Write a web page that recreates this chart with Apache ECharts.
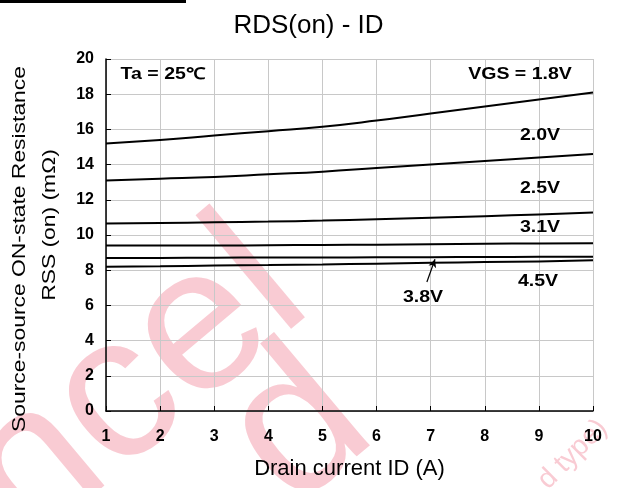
<!DOCTYPE html>
<html>
<head>
<meta charset="utf-8">
<script src="https://cdn.jsdelivr.net/npm/echarts@6/dist/echarts.min.js"></script>
<style>
  html, body { margin: 0; padding: 0; background: #fff; }
  #chartWrap { width: 617px; height: 488px; }
</style>
</head>
<body>
<div id="chartWrap"></div>
<script>
// 漏极电流 ID (A)
var currents = [1, 2, 3, 4, 5, 6, 7, 8, 9, 10];
// 各 VGS 下的导通电阻 (mΩ)
var vgs18 = [15.2, 15.4, 15.65, 15.9, 16.15, 16.5, 16.9, 17.3, 17.7, 18.1];
var vgs20 = [13.1, 13.2, 13.3, 13.45, 13.6, 13.8, 14.0, 14.2, 14.4, 14.6];
var vgs25 = [10.65, 10.68, 10.72, 10.76, 10.82, 10.9, 10.98, 11.07, 11.17, 11.28];
var vgs31 = [9.4, 9.4, 9.4, 9.42, 9.43, 9.45, 9.47, 9.5, 9.52, 9.53];
var vgs38 = [8.7, 8.7, 8.71, 8.72, 8.72, 8.73, 8.74, 8.75, 8.76, 8.77];
var vgs45 = [8.2, 8.22, 8.27, 8.3, 8.33, 8.37, 8.42, 8.46, 8.5, 8.56];
var seriesNames = ['1.8V', '2.0V', '2.5V', '3.1V', '3.8V', '4.5V'];

var FONT = 'Liberation Sans, Arial, sans-serif';
var PINK = '#f9cbd3';

function pairs(arr) {
  var out = [];
  for (var i = 0; i < currents.length; i++) {
    out.push([currents[i], arr[i]]);
  }
  return out;
}

function makeSeries(name, arr) {
  return {
    name: name,
    type: 'line',
    smooth: true,
    showSymbol: false,
    silent: true,
    z: 5,
    lineStyle: { color: '#000', width: 2 },
    data: pairs(arr)
  };
}

var series = [
  makeSeries(seriesNames[0], vgs18),
  makeSeries(seriesNames[1], vgs20),
  makeSeries(seriesNames[2], vgs25),
  makeSeries(seriesNames[3], vgs31),
  makeSeries(seriesNames[4], vgs38),
  makeSeries(seriesNames[5], vgs45)
];

// 3.8V 的指示箭头
series[4].markLine = {
  silent: true,
  symbol: ['none', 'arrow'],
  symbolSize: [6, 8],
  label: { show: false },
  lineStyle: { color: '#000', width: 1.2, type: 'solid' },
  data: [[{ coord: [6.93, 7.33] }, { coord: [7.08, 8.62] }]]
};

// 曲线旁的标注文字 (横向略拉伸)
function note(cx, cy, text) {
  return {
    type: 'text',
    x: cx,
    y: cy,
    scaleX: 1.22,
    z: 10,
    style: {
      text: text, x: 0, y: 0, align: 'center', verticalAlign: 'middle',
      font: 'bold 16px ' + FONT, fill: '#000'
    }
  };
}

// 纵轴名称 (旋转，沿文字方向拉伸)
function yName(cx, cy, text) {
  return {
    type: 'text',
    x: cx,
    y: cy,
    rotation: Math.PI / 2,
    scaleX: 1.27,
    z: 10,
    style: {
      text: text, x: 0, y: 0, align: 'center', verticalAlign: 'middle',
      font: '18px ' + FONT, fill: '#000'
    }
  };
}

// 背景水印 (放在最底层)
function mark(cx, cy, text, size, deg, align) {
  return {
    type: 'text',
    x: cx,
    y: cy,
    rotation: deg * Math.PI / 180,
    zlevel: -1,
    silent: true,
    style: {
      text: text, x: 0, y: 0, align: align || 'center', verticalAlign: 'middle',
      font: size + 'px ' + FONT, fill: PINK
    }
  };
}

var myChart = echarts.init(document.getElementById('chartWrap'));
myChart.setOption({
  animation: false,
  title: {
    text: 'RDS(on) - ID',
    left: 'center',
    top: 8,
    textStyle: { fontFamily: FONT, fontSize: 26, fontWeight: 'normal', color: '#000' }
  },
  grid: { left: 106, right: 24, top: 59, bottom: 77 },
  xAxis: {
    type: 'value',
    min: 1,
    max: 10,
    interval: 1,
    name: 'Drain current ID (A)',
    nameLocation: 'middle',
    nameGap: 47,
    nameTextStyle: { fontFamily: FONT, fontSize: 22, color: '#000' },
    axisLine: { lineStyle: { color: '#000', width: 1.5 } },
    axisTick: { inside: true, length: 5, lineStyle: { color: '#000' } },
    axisLabel: { fontFamily: FONT, fontSize: 16, fontWeight: 'bold', color: '#000', margin: 18 },
    splitLine: { show: true, lineStyle: { color: '#c8c8c8', width: 1 } }
  },
  yAxis: {
    type: 'value',
    min: 0,
    max: 20,
    interval: 2,
    axisLine: { show: true, lineStyle: { color: '#000', width: 1.5 } },
    axisTick: { show: true, inside: true, length: 5, lineStyle: { color: '#000' } },
    axisLabel: { fontFamily: FONT, fontSize: 16, fontWeight: 'bold', color: '#000', margin: 12 },
    splitLine: { show: true, lineStyle: { color: '#c8c8c8', width: 1 } }
  },
  graphic: [
    mark(135, 386, 'ncel', 205, 40),
    mark(300, 430, 'd', 205, 40),
    mark(603, 424, 'd type)', 28, 45, 'right'),
    { type: 'rect', left: 0, top: 0, shape: { width: 186, height: 3 }, style: { fill: '#000' } },
    yName(20, 249, 'Source-source ON-state Resistance'),
    yName(50, 225, 'RSS (on) (mΩ)'),
    note(163, 75, 'Ta = 25℃'),
    note(520, 75, 'VGS = 1.8V'),
    note(540, 136, '2.0V'),
    note(540, 189, '2.5V'),
    note(540, 228, '3.1V'),
    note(538, 282, '4.5V'),
    note(423, 298, '3.8V')
  ],
  series: series
});
</script>
</body>
</html>
